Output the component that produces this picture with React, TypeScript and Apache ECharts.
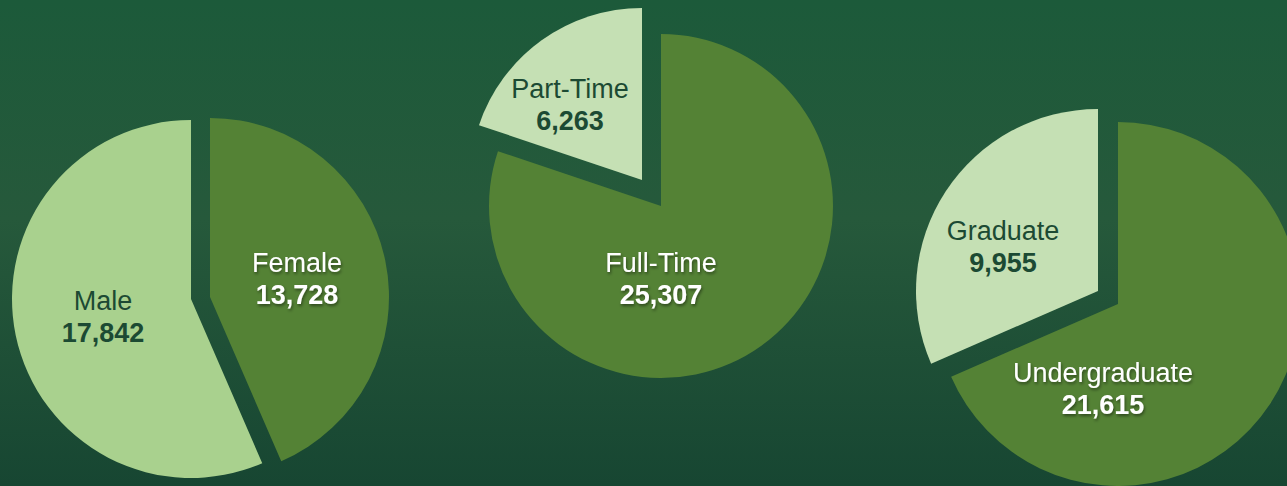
import React, { useEffect, useRef } from "react";
import * as echarts from "echarts";

// Enrollment breakdowns
const genderNames = ["Female", "Male"];
const genderValues = [13728, 17842];
const statusNames = ["Full-Time", "Part-Time"];
const statusValues = [25307, 6263];
const levelNames = ["Undergraduate", "Graduate"];
const levelValues = [21615, 9955];

const DARK = "#548235";
const LIGHT = "#a9d18e";
const PALE = "#c5e0b4";
const DARK_TEXT = "#1c4a33";

type SliceCfg = {
  center: [number, number];
  radius: number;
  label: [number, number];
  color: string;
  textColor: string;
  shadow: boolean;
};

// layout of each slice (pie piece), in the order of the value arrays
const genderLayout: SliceCfg[] = [
  { center: [210, 297], radius: 179, label: [297, 279], color: DARK, textColor: "#ffffff", shadow: true },
  { center: [191, 299], radius: 179, label: [103, 317], color: LIGHT, textColor: DARK_TEXT, shadow: false },
];
const statusLayout: SliceCfg[] = [
  { center: [661, 206], radius: 172, label: [661, 279], color: DARK, textColor: "#ffffff", shadow: true },
  { center: [642, 180], radius: 172, label: [570, 105], color: PALE, textColor: DARK_TEXT, shadow: false },
];
const levelLayout: SliceCfg[] = [
  { center: [1118, 304], radius: 182, label: [1103, 389], color: DARK, textColor: "#ffffff", shadow: true },
  { center: [1098, 291], radius: 182, label: [1003, 247], color: PALE, textColor: DARK_TEXT, shadow: false },
];

function textStyle(cfg: SliceCfg, bold: boolean) {
  return {
    fontFamily: "'Liberation Sans', Arial, sans-serif",
    fontSize: 27,
    fontWeight: bold ? "bold" : "normal",
    lineHeight: 32,
    color: cfg.textColor,
    align: "center",
    textShadowColor: cfg.shadow ? "rgba(0,0,0,0.45)" : "transparent",
    textShadowBlur: cfg.shadow ? 3 : 0,
    textShadowOffsetX: cfg.shadow ? 1 : 0,
    textShadowOffsetY: cfg.shadow ? 2 : 0,
  };
}

function sliceSeries(names: string[], values: number[], layout: SliceCfg[]) {
  return layout.map((cfg, vis) => ({
    type: "pie",
    center: cfg.center,
    radius: [0, cfg.radius],
    startAngle: 90,
    clockwise: true,
    silent: true,
    avoidLabelOverlap: false,
    emphasis: { disabled: true },
    labelLine: { show: false },
    labelLayout: { x: cfg.label[0], y: cfg.label[1] },
    data: names.map((n, i) =>
      i === vis
        ? {
            name: n,
            value: values[i],
            itemStyle: { color: cfg.color },
            label: {
              show: true,
              position: "inside",
              formatter: (p: any) =>
                `{n|${p.name}}\n{v|${Number(p.value).toLocaleString("en-US")}}`,
              rich: { n: textStyle(cfg, false), v: textStyle(cfg, true) },
            },
          }
        : {
            name: n,
            value: values[i],
            itemStyle: { color: "rgba(0,0,0,0)", borderWidth: 0 },
            label: { show: false },
          }
    ),
  }));
}

export default function App() {
  const ref = useRef<HTMLDivElement>(null);
  useEffect(() => {
    document.body.style.margin = "0";
    if (!ref.current) return;
    const chart = echarts.init(ref.current, undefined, { renderer: "svg" });
    chart.setOption({
      animation: false,
      backgroundColor: {
        type: "linear",
        x: 0,
        y: 0,
        x2: 0,
        y2: 1,
        colorStops: [
          { offset: 0, color: "#1c5a3a" },
          { offset: 0.45, color: "#26593b" },
          { offset: 1, color: "#174632" },
        ],
      },
      tooltip: { show: false },
      series: [
        ...sliceSeries(genderNames, genderValues, genderLayout),
        ...sliceSeries(statusNames, statusValues, statusLayout),
        ...sliceSeries(levelNames, levelValues, levelLayout),
      ],
    });
    return () => chart.dispose();
  }, []);
  return <div ref={ref} style={{ width: 1287, height: 486 }} />;
}
